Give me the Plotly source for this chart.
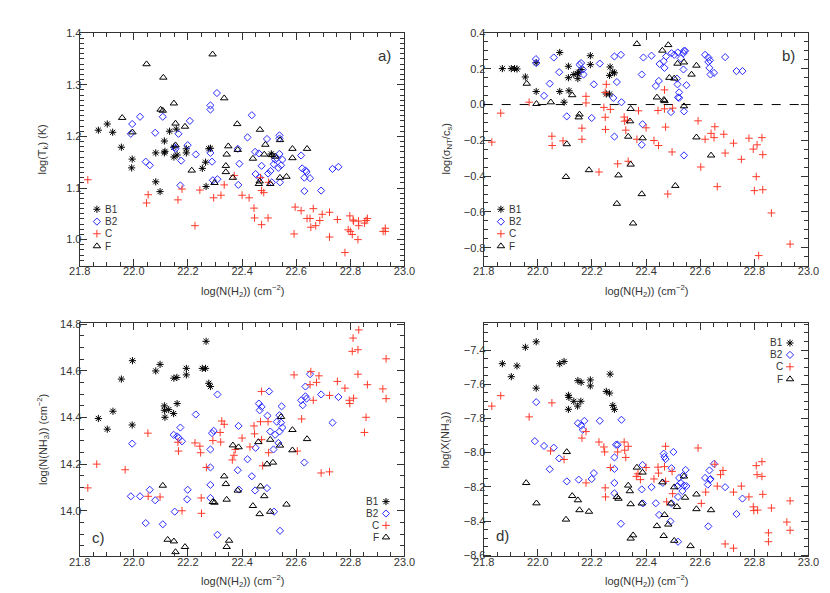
import plotly.graph_objects as go

# x values: log(N(H2)) (cm^-2); y values read per panel

# ---- panel a: log(Tk) ----
a_b1_x = [21.869, 21.902, 21.922, 21.954, 21.994, 21.992, 22.081, 22.097, 22.081, 22.113, 22.115, 22.113, 22.132,
          22.157, 22.147, 22.148, 22.160, 22.194, 22.194, 22.253, 22.265, 22.267, 22.277, 22.283, 22.508]
a_b1_y = [1.212, 1.224, 1.208, 1.179, 1.156, 1.139, 1.112, 1.093, 1.168, 1.168, 1.171, 1.191, 1.210,
          1.214, 1.179, 1.160, 1.164, 1.168, 1.176, 1.138, 1.150, 1.103, 1.176, 1.177, 1.166]
a_b2_x = [21.994, 21.989, 22.023, 22.044, 22.059, 22.079, 22.107, 22.151, 22.154, 22.165, 22.172, 22.175, 22.199,
          22.207, 22.229, 22.283, 22.283, 22.307, 22.283, 22.289, 22.292, 22.309, 22.384, 22.390, 22.386, 22.420,
          22.436, 22.448, 22.450, 22.465, 22.472, 22.462, 22.492, 22.496, 22.505, 22.510, 22.517, 22.522, 22.528,
          22.534, 22.538, 22.538, 22.538, 22.540, 22.544, 22.549, 22.618, 22.622, 22.630, 22.634, 22.638, 22.630,
          22.651, 22.692, 22.734, 22.756]
a_b2_y = [1.224, 1.205, 1.238, 1.151, 1.144, 1.207, 1.238, 1.179, 1.176, 1.205, 1.105, 1.153, 1.183,
          1.230, 1.165, 1.260, 1.252, 1.284, 1.168, 1.151, 1.115, 1.117, 1.176, 1.147, 1.106, 1.198,
          1.241, 1.170, 1.127, 1.120, 1.143, 1.167, 1.195, 1.128, 1.133, 1.111, 1.146, 1.155, 1.158,
          1.139, 1.202, 1.196, 1.166, 1.111, 1.144, 1.155, 1.163, 1.138, 1.120, 1.134, 1.131, 1.094,
          1.119, 1.095, 1.137, 1.141]
a_c_x = [21.830, 22.053, 22.047, 22.163, 22.178, 22.226, 22.244, 22.295, 22.322, 22.334, 22.371, 22.400, 22.426,
         22.444, 22.446, 22.468, 22.472, 22.472, 22.480, 22.498, 22.496, 22.596, 22.592, 22.618, 22.640, 22.651,
         22.654, 22.663, 22.672, 22.687, 22.696, 22.723, 22.723, 22.752, 22.780, 22.792, 22.798, 22.800, 22.810,
         22.812, 22.807, 22.828, 22.830, 22.831, 22.852, 22.858, 22.863, 22.921, 22.929, 22.929]
a_c_y = [1.116, 1.087, 1.071, 1.077, 1.098, 1.027, 1.096, 1.081, 1.086, 1.106, 1.124, 1.086, 1.081,
         1.061, 1.042, 1.120, 1.029, 1.095, 1.091, 1.111, 1.042, 1.063, 1.011, 1.056, 1.041, 1.041,
         1.024, 1.060, 1.027, 1.037, 1.049, 1.053, 1.005, 1.039, 0.975, 1.019, 1.046, 1.016, 1.038,
         1.036, 1.010, 1.000, 1.036, 1.027, 1.032, 1.037, 1.041, 1.016, 1.022, 1.016]
a_f_x = [22.047, 22.109, 22.291, 22.334, 22.148, 22.099, 22.107, 21.957, 21.995, 22.154, 22.189, 22.382, 22.466,
         22.154, 22.349, 22.343, 22.340, 22.340, 22.214, 22.384, 22.366, 22.298, 22.440, 22.486, 22.482, 22.510,
         22.522, 22.462, 22.465, 22.504, 22.540, 22.540, 22.564, 22.586, 22.586, 22.640]
a_f_y = [1.340, 1.314, 1.359, 1.274, 1.264, 1.252, 1.250, 1.236, 1.208, 1.225, 1.219, 1.224, 1.213,
         1.183, 1.181, 1.165, 1.143, 1.131, 1.134, 1.174, 1.120, 1.110, 1.157, 1.184, 1.165, 1.164,
         1.161, 1.108, 1.113, 1.108, 1.193, 1.120, 1.122, 1.176, 1.158, 1.176]

# ---- panel b: log(sigma_NT / c_s) ----
b_b1_x = [21.869, 21.902, 21.914, 21.923, 21.954, 21.994, 21.994, 22.081, 22.081, 22.097, 22.113, 22.113, 22.115,
          22.133, 22.147, 22.148, 22.151, 22.160, 22.194, 22.194, 22.253, 22.265, 22.267, 22.265, 22.277, 22.283]
b_b1_y = [0.201, 0.201, 0.201, 0.199, 0.154, 0.073, 0.234, 0.291, 0.073, 0.013, 0.214, 0.150, 0.077,
          0.168, 0.172, 0.145, 0.181, 0.196, 0.273, 0.223, 0.059, 0.059, 0.210, 0.163, 0.181, 0.177]
b_b2_x = [21.993, 21.994, 22.023, 22.044, 22.059, 22.079, 22.107, 22.154, 22.160, 22.166, 22.169, 22.199, 22.207,
          22.229, 22.283, 22.279, 22.283, 22.292, 22.307, 22.309, 22.384, 22.387, 22.384, 22.390, 22.420, 22.436,
          22.447, 22.450, 22.465, 22.468, 22.474, 22.492, 22.494, 22.504, 22.517, 22.514, 22.516, 22.522, 22.518,
          22.522, 22.528, 22.538, 22.540, 22.544, 22.538, 22.549, 22.540, 22.540, 22.618, 22.630, 22.630, 22.636,
          22.634, 22.638, 22.651, 22.692, 22.734, 22.756]
b_b2_y = [0.254, 0.232, 0.049, 0.117, 0.263, 0.181, -0.066, 0.223, 0.232, 0.196, 0.168, -0.075, 0.113,
          0.229, 0.269, 0.037, -0.179, 0.126, 0.278, 0.013, 0.168, -0.110, -0.225, 0.263, 0.273, 0.104,
          0.132, 0.227, 0.242, 0.205, 0.269, -0.042, 0.287, 0.278, 0.291, 0.145, 0.113, 0.068, 0.040,
          0.037, 0.258, 0.287, 0.300, 0.300, 0.196, 0.108, -0.038, -0.284, 0.278, 0.263, 0.238, 0.247,
          0.205, 0.168, 0.177, 0.265, 0.187, 0.187]
b_c_x = [21.830, 21.863, 21.968, 22.052, 22.053, 22.093, 22.163, 22.163, 22.178, 22.178, 22.226, 22.244, 22.253,
         22.249, 22.249, 22.250, 22.268, 22.295, 22.319, 22.321, 22.325, 22.331, 22.334, 22.366, 22.372, 22.400,
         22.429, 22.444, 22.446, 22.468, 22.468, 22.472, 22.480, 22.498, 22.496, 22.592, 22.602, 22.618, 22.640,
         22.651, 22.654, 22.663, 22.687, 22.692, 22.723, 22.752, 22.780, 22.796, 22.800, 22.807, 22.810, 22.816,
         22.828, 22.831, 22.831, 22.863, 22.932]
b_c_y = [-0.210, -0.048, 0.013, -0.177, -0.229, -0.203, -0.132, -0.194, 0.046, 0.009, -0.377, -0.016, 0.113,
         0.068, -0.071, -0.139, -0.027, -0.331, -0.070, -0.093, -0.143, -0.088, -0.317, -0.194, -0.035, -0.130,
         -0.201, -0.033, -0.229, 0.082, -0.024, -0.126, -0.500, -0.020, -0.265, -0.091, -0.349, -0.194, -0.161,
         -0.185, -0.124, -0.459, -0.166, -0.271, -0.216, -0.306, -0.188, -0.249, -0.481, -0.403, -0.225, -0.844,
         -0.185, -0.476, -0.280, -0.606, -0.780]
b_f_x = [21.959, 21.995, 22.048, 22.107, 22.104, 22.127, 22.154, 22.151, 22.189, 22.292, 22.298, 22.343, 22.341,
         22.334, 22.343, 22.352, 22.366, 22.387, 22.384, 22.440, 22.460, 22.466, 22.468, 22.482, 22.486, 22.504,
         22.508, 22.516, 22.540, 22.540, 22.568, 22.586, 22.586, 22.640]
b_f_y = [0.117, 0.004, 0.013, -0.221, -0.404, 0.053, -0.055, -0.071, -0.366, -0.554, -0.395, -0.024, -0.093,
         -0.179, -0.335, -0.664, 0.339, -0.188, -0.500, 0.040, 0.302, 0.027, 0.020, 0.333, 0.150, 0.146,
         -0.454, 0.229, 0.236, -0.009, 0.168, 0.218, -0.183, -0.284]

# ---- panel c: log(N(NH3)) ----
c_b1_x = [21.869, 21.902, 21.923, 21.954, 21.994, 21.995, 22.081, 22.097, 22.113, 22.113, 22.115, 22.129, 22.147,
          22.148, 22.160, 22.159, 22.194, 22.194, 22.253, 22.265, 22.267, 22.277, 22.283]
c_b1_y = [14.396, 14.350, 14.427, 14.565, 14.368, 14.644, 14.600, 14.628, 14.450, 14.431, 14.401, 14.434, 14.417,
          14.569, 14.460, 14.572, 14.611, 14.583, 14.611, 14.611, 14.727, 14.547, 14.533]
c_b2_x = [21.989, 21.994, 22.023, 22.044, 22.059, 22.079, 22.107, 22.147, 22.151, 22.160, 22.166, 22.172, 22.178,
          22.199, 22.197, 22.229, 22.283, 22.283, 22.283, 22.283, 22.289, 22.295, 22.309, 22.309, 22.384, 22.387,
          22.388, 22.420, 22.436, 22.448, 22.450, 22.462, 22.465, 22.472, 22.492, 22.494, 22.500, 22.504, 22.516,
          22.518, 22.522, 22.528, 22.534, 22.538, 22.538, 22.540, 22.544, 22.546, 22.549, 22.618, 22.624, 22.630,
          22.634, 22.634, 22.638, 22.651, 22.692, 22.734, 22.756]
c_b2_y = [14.062, 14.288, 14.062, 13.947, 14.090, 14.045, 13.942, 14.326, 13.996, 14.319, 14.312, 14.357, 14.298,
          14.090, 14.049, 14.413, 14.263, 14.186, 14.111, 14.055, 14.333, 14.343, 14.499, 13.897, 14.174, 14.364,
          14.091, 14.221, 14.148, 14.087, 14.270, 14.460, 14.431, 14.446, 14.097, 14.408, 14.512, 14.340, 14.263,
          13.996, 14.326, 14.382, 14.291, 14.340, 14.410, 13.914, 14.378, 14.448, 14.357, 14.474, 14.453, 14.207,
          14.533, 14.491, 14.481, 14.586, 14.499, 14.378, 14.488]
c_c_x = [21.830, 21.863, 21.968, 22.052, 22.053, 22.097, 22.163, 22.165, 22.178, 22.226, 22.244, 22.247, 22.249,
         22.250, 22.268, 22.292, 22.319, 22.321, 22.325, 22.334, 22.364, 22.370, 22.375, 22.400, 22.429, 22.444,
         22.446, 22.468, 22.472, 22.472, 22.476, 22.498, 22.496, 22.592, 22.604, 22.620, 22.654, 22.651, 22.663,
         22.675, 22.684, 22.692, 22.723, 22.723, 22.752, 22.780, 22.796, 22.798, 22.807, 22.810, 22.812, 22.828,
         22.831, 22.828, 22.858, 22.852, 22.863, 22.920, 22.932, 22.932]
c_c_y = [14.098, 14.200, 14.176, 14.333, 14.062, 14.059, 14.294, 14.256, 14.000, 14.291, 14.277, 14.249, 14.055,
         13.989, 14.186, 14.301, 14.336, 14.295, 14.385, 14.371, 14.218, 14.238, 14.263, 14.312, 14.274, 14.364,
         14.330, 14.382, 14.512, 14.305, 14.193, 14.249, 14.382, 14.583, 14.256, 14.394, 14.597, 14.541, 14.474,
         14.551, 14.579, 14.162, 14.167, 14.495, 14.555, 14.526, 14.474, 14.460, 14.684, 14.741, 14.483, 14.691,
         14.776, 14.586, 14.401, 14.336, 14.541, 14.523, 14.652, 14.481]
c_f_x = [22.107, 22.125, 22.148, 22.154, 22.189, 22.292, 22.298, 22.334, 22.340, 22.343, 22.343, 22.352, 22.366,
         22.387, 22.384, 22.440, 22.460, 22.465, 22.468, 22.482, 22.492, 22.504, 22.504, 22.514, 22.544, 22.540,
         22.564, 22.586, 22.586, 22.640]
c_f_y = [14.108, 13.876, 13.869, 13.823, 13.845, 14.038, 14.035, 14.148, 14.115, 14.048, 13.845, 13.872, 14.281,
         14.273, 14.087, 14.021, 14.295, 13.986, 14.105, 14.063, 14.200, 14.305, 13.996, 14.207, 14.403, 14.280,
         14.027, 14.347, 14.260, 14.308]

# ---- panel d: log(X(NH3)) ----
d_b1_x = [21.869, 21.902, 21.923, 21.954, 21.994, 21.994, 22.081, 22.097, 22.113, 22.115, 22.113, 22.133, 22.147,
          22.148, 22.160, 22.159, 22.194, 22.194, 22.253, 22.265, 22.267, 22.277, 22.283]
d_b1_y = [-7.480, -7.556, -7.493, -7.384, -7.352, -7.623, -7.480, -7.467, -7.665, -7.677, -7.747, -7.700, -7.728,
          -7.579, -7.589, -7.700, -7.575, -7.610, -7.642, -7.652, -7.541, -7.724, -7.747]
d_b2_x = [21.994, 21.989, 22.023, 22.044, 22.059, 22.079, 22.107, 22.148, 22.151, 22.160, 22.166, 22.172, 22.199,
          22.207, 22.229, 22.283, 22.283, 22.283, 22.283, 22.289, 22.295, 22.309, 22.307, 22.384, 22.387, 22.388,
          22.420, 22.436, 22.448, 22.465, 22.468, 22.472, 22.462, 22.490, 22.494, 22.501, 22.494, 22.516, 22.518,
          22.518, 22.522, 22.528, 22.534, 22.538, 22.540, 22.546, 22.549, 22.618, 22.628, 22.630, 22.634, 22.636,
          22.638, 22.651, 22.692, 22.734, 22.756]
d_b2_y = [-7.705, -7.933, -7.961, -8.097, -7.971, -8.034, -8.168, -7.828, -8.158, -7.843, -7.866, -7.814, -8.154,
          -8.120, -7.814, -8.028, -8.095, -8.177, -8.238, -7.954, -7.954, -7.808, -8.416, -8.215, -8.072, -8.297,
          -8.202, -8.296, -8.364, -8.006, -8.025, -8.038, -8.177, -8.402, -8.091, -7.996, -8.297, -8.196, -8.521,
          -8.259, -8.148, -8.177, -8.225, -8.132, -8.192, -8.101, -8.196, -8.148, -8.187, -8.431, -8.104, -8.158,
          -8.154, -8.066, -8.202, -8.359, -8.269]
d_c_x = [21.830, 21.863, 21.968, 22.052, 22.047, 22.097, 22.163, 22.178, 22.178, 22.226, 22.244, 22.247, 22.249,
         22.250, 22.268, 22.295, 22.319, 22.321, 22.325, 22.334, 22.364, 22.370, 22.379, 22.400, 22.429, 22.444,
         22.446, 22.468, 22.472, 22.472, 22.476, 22.498, 22.496, 22.592, 22.604, 22.620, 22.654, 22.663, 22.675,
         22.684, 22.692, 22.723, 22.723, 22.752, 22.780, 22.796, 22.798, 22.807, 22.810, 22.812, 22.828, 22.828,
         22.831, 22.852, 22.852, 22.863, 22.920, 22.932, 22.932]
d_c_y = [-7.728, -7.667, -7.791, -7.709, -7.990, -8.040, -7.915, -7.877, -8.177, -7.938, -7.967, -7.996, -8.206,
         -8.259, -8.087, -7.996, -7.938, -7.986, -8.028, -7.963, -8.139, -8.124, -8.158, -8.087, -8.154, -8.085,
         -8.120, -8.082, -7.963, -8.168, -8.288, -8.240, -8.110, -7.973, -8.297, -8.231, -8.068, -8.196, -8.129,
         -8.104, -8.534, -8.231, -8.559, -8.196, -8.259, -8.317, -8.339, -8.076, -8.129, -8.336, -8.053, -8.139,
         -8.244, -8.469, -8.521, -8.324, -8.406, -8.282, -8.454]
d_f_x = [21.957, 21.995, 22.107, 22.104, 22.127, 22.148, 22.154, 22.189, 22.292, 22.298, 22.334, 22.340, 22.343,
         22.343, 22.352, 22.366, 22.387, 22.384, 22.440, 22.460, 22.465, 22.468, 22.482, 22.492, 22.504, 22.504,
         22.514, 22.540, 22.544, 22.564, 22.586, 22.586, 22.640]
d_f_y = [-8.177, -8.296, -7.996, -8.391, -8.253, -8.278, -8.336, -8.345, -8.259, -8.269, -8.192, -8.225, -8.301,
         -8.502, -8.483, -8.087, -8.116, -8.297, -8.429, -8.173, -8.487, -8.364, -8.420, -8.297, -8.202, -8.515,
         -8.317, -8.139, -8.263, -8.546, -8.244, -8.330, -8.336]

groups = ['B1', 'B2', 'C', 'F']
STYLE = {
    'B1': dict(symbol='asterisk-open', color='black', size=6),
    'B2': dict(symbol='diamond-open', color='#2b2bff', size=5.5),
    'C': dict(symbol='cross-thin-open', color='#ff3a2a', size=5.5),
    'F': dict(symbol='triangle-up-open', color='black', size=6.5),
}

X_RANGE = [21.8, 23.0]
INK = '#333333'
FONT = 'Liberation Sans'
X_TITLE = 'log(N(H<sub>2</sub>)) (cm<sup>−2</sup>)'

panels = [
    dict(ax='', data={'B1': (a_b1_x, a_b1_y), 'B2': (a_b2_x, a_b2_y), 'C': (a_c_x, a_c_y), 'F': (a_f_x, a_f_y)},
         yr=[0.949, 1.401], ytitle='log(T<sub>k</sub>) (K)', dtick=0.1, minor=0.01,
         xdom=[0.0751, 0.4771], ydom=[0.5671, 0.968], label='a)', lab=(0.939, 0.90),
         leg_side='left', leg_y=[0.243, 0.190, 0.138, 0.085], ytx=0.030, xty=0.524),
    dict(ax='2', data={'B1': (b_b1_x, b_b1_y), 'B2': (b_b2_x, b_b2_y), 'C': (b_c_x, b_c_y), 'F': (b_f_x, b_f_y)},
         yr=[-0.902, 0.402], ytitle='log(σ<sub>NT</sub>/c<sub>s</sub>)', dtick=0.2, minor=0.05,
         xdom=[0.5751, 0.9771], ydom=[0.5671, 0.968], label='b)', lab=(0.939, 0.90),
         leg_side='left', leg_y=[0.243, 0.190, 0.138, 0.085], ytx=0.530, xty=0.524),
    dict(ax='3', data={'B1': (c_b1_x, c_b1_y), 'B2': (c_b2_x, c_b2_y), 'C': (c_c_x, c_c_y), 'F': (c_f_x, c_f_y)},
         yr=[13.804, 14.805], ytitle='log(N(NH<sub>3</sub>)) (cm<sup>−2</sup>)', dtick=0.2, minor=0.05,
         xdom=[0.0751, 0.4771], ydom=[0.068, 0.4688], label='c)', lab=(0.058, 0.083),
         leg_side='right', leg_y=[0.235, 0.184, 0.133, 0.082], ytx=0.030, xty=0.025),
    dict(ax='4', data={'B1': (d_b1_x, d_b1_y), 'B2': (d_b2_x, d_b2_y), 'C': (d_c_x, d_c_y), 'F': (d_f_x, d_f_y)},
         yr=[-8.607, -7.243], ytitle='log(X(NH<sub>3</sub>))', dtick=0.2, minor=0.05,
         xdom=[0.5751, 0.9771], ydom=[0.068, 0.4688], label='d)', lab=(0.058, 0.088),
         leg_side='right', leg_y=[0.915, 0.864, 0.813, 0.760], ytx=0.528, xty=0.025),
]


def marker(g):
    s = STYLE[g]
    return dict(symbol=s['symbol'], size=s['size'], color=s['color'],
                line=dict(color=s['color'], width=1))


fig = go.Figure()
annotations = []

for p in panels:
    xa, ya = 'x' + p['ax'], 'y' + p['ax']
    for g in groups:
        xs, ys = p['data'][g]
        fig.add_trace(go.Scatter(x=xs, y=ys, mode='markers', xaxis=xa, yaxis=ya,
                                 marker=marker(g), showlegend=False, name=g,
                                 hovertemplate=g + ': (%{x:.2f}, %{y:.3f})<extra></extra>'))

    # key: symbol + label inside the panel
    yr = p['yr']
    for g, fy in zip(groups, p['leg_y']):
        ky = yr[0] + fy * (yr[1] - yr[0])
        if p['leg_side'] == 'left':
            sx, tx, anchor = 0.053, 0.074, 'left'
        else:
            sx, tx, anchor = 0.943, 0.925, 'right'
        kx = X_RANGE[0] + sx * (X_RANGE[1] - X_RANGE[0])
        fig.add_trace(go.Scatter(x=[kx], y=[ky], mode='markers', xaxis=xa, yaxis=ya,
                                 marker=marker(g), showlegend=False, hoverinfo='skip'))
        annotations.append(dict(x=tx, y=fy, xref=xa + ' domain', yref=ya + ' domain',
                                text=g, showarrow=False, xanchor=anchor, yanchor='middle', borderpad=0,
                                font=dict(family=FONT, size=10, color=INK)))

    annotations.append(dict(x=p['lab'][0], y=p['lab'][1], xref=xa + ' domain', yref=ya + ' domain',
                            text=p['label'], showarrow=False, xanchor='center', yanchor='middle',
                            font=dict(family=FONT, size=15, color=INK)))

    # axis titles
    annotations.append(dict(x=0.5, y=p['xty'], xref=xa + ' domain', yref='paper',
                            text=X_TITLE, showarrow=False, xanchor='center', yanchor='middle',
                            font=dict(family=FONT, size=11, color=INK)))
    annotations.append(dict(x=p['ytx'], y=0.5, xref='paper', yref=ya + ' domain',
                            text=p['ytitle'], showarrow=False, textangle=-90,
                            xanchor='center', yanchor='middle',
                            font=dict(family=FONT, size=11, color=INK)))

# zero line in panel b
fig.add_shape(type='line', xref='x2 domain', yref='y2', x0=0, x1=1, y0=0, y1=0,
              line=dict(color='black', width=1, dash='dash'))

layout = dict(
    width=830, height=593,
    margin=dict(l=0, r=0, t=0, b=0),
    paper_bgcolor='white', plot_bgcolor='white',
    font=dict(family=FONT, size=11, color=INK),
    annotations=annotations,
)

for p in panels:
    axis_common = dict(showline=True, linecolor=INK, linewidth=1, mirror='allticks',
                       ticks='inside', ticklen=7, tickwidth=1, tickcolor=INK,
                       showgrid=False, zeroline=False,
                       tickfont=dict(family=FONT, size=11, color=INK))
    layout['xaxis' + p['ax']] = dict(
        axis_common, domain=p['xdom'], range=X_RANGE, dtick=0.2, tick0=21.8, tickformat='.1f',
        anchor='y' + p['ax'], ticklabelstandoff=-5,
        minor=dict(ticks='inside', ticklen=4, dtick=0.05, tickcolor=INK, showgrid=False),
    )
    layout['yaxis' + p['ax']] = dict(
        axis_common, domain=p['ydom'], range=p['yr'], dtick=p['dtick'], tick0=0, tickformat='.1f',
        anchor='x' + p['ax'], ticklabelstandoff=-5,
        minor=dict(ticks='inside', ticklen=4, dtick=p['minor'], tickcolor=INK, showgrid=False),
    )

fig.update_layout(**layout)
fig.write_html("out.html")
